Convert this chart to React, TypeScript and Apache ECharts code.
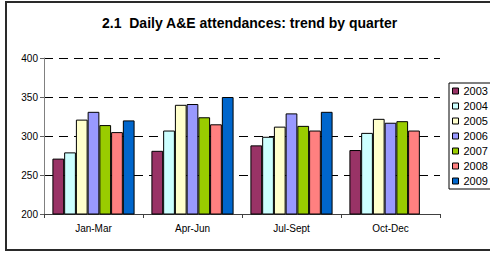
import React, { useEffect, useRef } from "react";
import * as echarts from "echarts";

const categories = ["Jan-Mar", "Apr-Jun", "Jul-Sept", "Oct-Dec"];
const years = ["2003", "2004", "2005", "2006", "2007", "2008", "2009"];
const v2003 = [271, 281, 288, 282];
const v2004 = [279, 307, 299, 304];
const v2005 = [321, 340, 312, 322];
const v2006 = [331, 341, 329, 317];
const v2007 = [314, 324, 313, 319];
const v2008 = [305, 315, 307, 307];
const v2009: (number | null)[] = [320, 350, 331, null];
const seriesValues = [v2003, v2004, v2005, v2006, v2007, v2008, v2009];
const colors = ["#993366", "#CCFFFF", "#FFFFCC", "#9999FF", "#99CC00", "#FF8080", "#0066CC"];
const titleText = "2.1  Daily A&E attendances: trend by quarter";

const FONT = "'Liberation Sans', Arial, sans-serif";

export default function App() {
  const ref = useRef<HTMLDivElement>(null);
  useEffect(() => {
    if (!ref.current) return;
    const chart = echarts.init(ref.current, undefined, { renderer: "svg" });
    chart.setOption({
      animation: false,
      backgroundColor: "#ffffff",
      title: {
        text: titleText,
        left: 102,
        top: 16,
        padding: 0,
        textStyle: { fontFamily: FONT, fontSize: 14, fontWeight: "bold", color: "#000" },
      },
      legend: {
        orient: "vertical",
        left: 449,
        top: 83,
        padding: [2, 3, 2, 3],
        itemWidth: 6,
        itemHeight: 6,
        itemGap: 3,
        itemTextGap: 3,
        borderColor: "#000",
        borderWidth: 1,
        icon: "rect",
        itemStyle: { borderColor: "#000", borderWidth: 1 },
        textStyle: { fontFamily: FONT, fontSize: 11, color: "#000", lineHeight: 12 },
        data: years,
      },
      grid: { left: 44, right: 50, top: 58, bottom: 39, containLabel: false },
      xAxis: {
        type: "category",
        data: categories,
        boundaryGap: true,
        axisLine: { lineStyle: { color: "#404040", width: 1 } },
        axisTick: { show: true, length: 4, lineStyle: { color: "#404040" } },
        axisLabel: { fontFamily: FONT, fontSize: 10, color: "#000", margin: 9 },
      },
      yAxis: {
        type: "value",
        min: 200,
        max: 400,
        interval: 50,
        axisLine: { show: true, lineStyle: { color: "#808080", width: 1 } },
        axisTick: { show: true, length: 4, lineStyle: { color: "#606060" } },
        axisLabel: { fontFamily: FONT, fontSize: 10, color: "#000", margin: 6 },
        splitLine: { show: true, lineStyle: { color: "#000", width: 1, type: [9, 6] } },
      },
      graphic: [
        {
          type: "rect",
          shape: { x: 6, y: 2, width: 500, height: 248 },
          style: { fill: "none", stroke: "#2a2a2a", lineWidth: 2 },
          z: 100,
          silent: true,
        },
      ],
      series: years.map((y, i) => ({
        name: y,
        type: "bar",
        data: seriesValues[i],
        barGap: 0,
        barCategoryGap: "17%",
        itemStyle: { color: colors[i], borderColor: "#000", borderWidth: 1 },
      })),
    });
    return () => chart.dispose();
  }, []);
  return (
    <div
      ref={ref}
      style={{ position: "fixed", left: 0, top: 0, width: 490, height: 253 }}
    />
  );
}
